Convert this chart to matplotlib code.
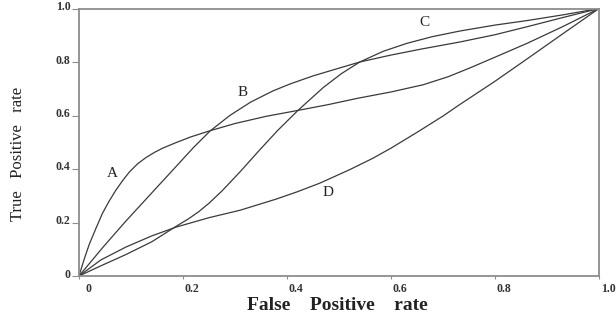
import matplotlib
matplotlib.use('Agg')
import matplotlib.pyplot as plt
import matplotlib.transforms as mtransforms

# ROC curves (false positive rate, true positive rate)
a_fpr = [0, 0.01, 0.02, 0.033, 0.045, 0.058, 0.071, 0.084, 0.097, 0.113, 0.129, 0.145, 0.161, 0.187,
         0.215, 0.252, 0.3, 0.36, 0.421, 0.48, 0.535, 0.6, 0.662, 0.71, 0.752, 0.8, 0.862, 0.93, 1.0]
a_tpr = [0, 0.063, 0.12, 0.18, 0.234, 0.28, 0.321, 0.357, 0.389, 0.42, 0.443, 0.462, 0.478, 0.499,
         0.52, 0.543, 0.57, 0.597, 0.619, 0.641, 0.664, 0.688, 0.715, 0.745, 0.778, 0.818, 0.87, 0.932, 1.0]

b_fpr = [0, 0.045, 0.09, 0.142, 0.187, 0.22, 0.252, 0.29, 0.33, 0.373, 0.406, 0.45, 0.5, 0.54,
         0.6, 0.66, 0.733, 0.8, 0.862, 0.93, 1.0]
b_tpr = [0, 0.105, 0.205, 0.315, 0.41, 0.48, 0.542, 0.60, 0.65, 0.692, 0.718, 0.748, 0.777, 0.80,
         0.826, 0.849, 0.875, 0.902, 0.932, 0.966, 1.0]

c_fpr = [0, 0.042, 0.09, 0.14, 0.187, 0.21, 0.23, 0.25, 0.275, 0.31, 0.345, 0.381, 0.421, 0.47,
         0.505, 0.54, 0.585, 0.631, 0.68, 0.733, 0.8, 0.862, 0.93, 1.0]
c_tpr = [0, 0.038, 0.08, 0.128, 0.186, 0.213, 0.24, 0.272, 0.318, 0.39, 0.466, 0.542, 0.619, 0.705,
         0.757, 0.80, 0.84, 0.87, 0.895, 0.916, 0.938, 0.955, 0.976, 1.0]

d_fpr = [0, 0.042, 0.09, 0.14, 0.187, 0.25, 0.31, 0.38, 0.42, 0.463, 0.52, 0.565, 0.6, 0.65, 0.7,
         0.733, 0.8, 0.862, 0.93, 1.0]
d_tpr = [0, 0.06, 0.108, 0.15, 0.183, 0.218, 0.246, 0.288, 0.315, 0.347, 0.397, 0.44, 0.478, 0.537,
         0.598, 0.642, 0.728, 0.812, 0.905, 1.0]

curve_names = ['A', 'B', 'C', 'D']
label_pos = [(0.065, 0.384), (0.315, 0.687), (0.665, 0.948), (0.479, 0.313)]

x_ticks = [0, 0.2, 0.4, 0.6, 0.8, 1.0]
x_ticklabels = ['0', '0.2', '0.4', '0.6', '0.8', '1.0']
y_ticks = [0, 0.2, 0.4, 0.6, 0.8, 1.0]
y_ticklabels = ['0', '0.2', '0.4', '0.6', '0.8', '1.0']

serif = 'Liberation Serif'
line_col = '#3a3a3a'
spine_col = '#8c8c8c'

fig = plt.figure(figsize=(6.16, 3.2), dpi=100)
ax = fig.add_axes([79 / 616, 44 / 320, 520 / 616, 267.5 / 320])

for xs, ys in [(a_fpr, a_tpr), (b_fpr, b_tpr), (c_fpr, c_tpr), (d_fpr, d_tpr)]:
    ax.plot(xs, ys, color=line_col, lw=0.9, solid_joinstyle='round')

for name, (lx, ly) in zip(curve_names, label_pos):
    ax.text(lx, ly, name, family=serif, fontsize=11, color='#222222',
            ha='center', va='center')

ax.set_xlim(0, 1)
ax.set_ylim(0, 1)
for s in ax.spines.values():
    s.set_color(spine_col)
    s.set_linewidth(1.3)

ax.set_xticks(x_ticks)
ax.set_xticklabels(x_ticklabels, family=serif, fontsize=8.5, fontweight='bold', color='#333333')
ax.set_yticks(y_ticks)
ax.set_yticklabels(y_ticklabels, family=serif, fontsize=8.5, fontweight='bold', color='#333333')
ax.tick_params(axis='x', length=2, width=0.8, color=spine_col, pad=3)
ax.tick_params(axis='y', length=5, width=0.8, color=spine_col, pad=1)

# labels sit a little to the right (x) and a little above (y) their ticks
dx = mtransforms.ScaledTranslation(9 / 100, 0, fig.dpi_scale_trans)
for lab in ax.get_xticklabels():
    lab.set_transform(lab.get_transform() + dx)
dy = mtransforms.ScaledTranslation(0, 3 / 100, fig.dpi_scale_trans)
for lab in ax.get_yticklabels():
    lab.set_transform(lab.get_transform() + dy)

fig.text(337 / 616, 1 - 305 / 320, 'False    Positive    rate', family=serif,
         fontsize=14, fontweight='bold', color='#222222', ha='center', va='center')
fig.text(18 / 616, 1 - 154 / 320, 'True   Positive   rate', family=serif,
         fontsize=12, color='#222222', ha='center', va='center', rotation=90)

fig.savefig('out.png', dpi=100)
